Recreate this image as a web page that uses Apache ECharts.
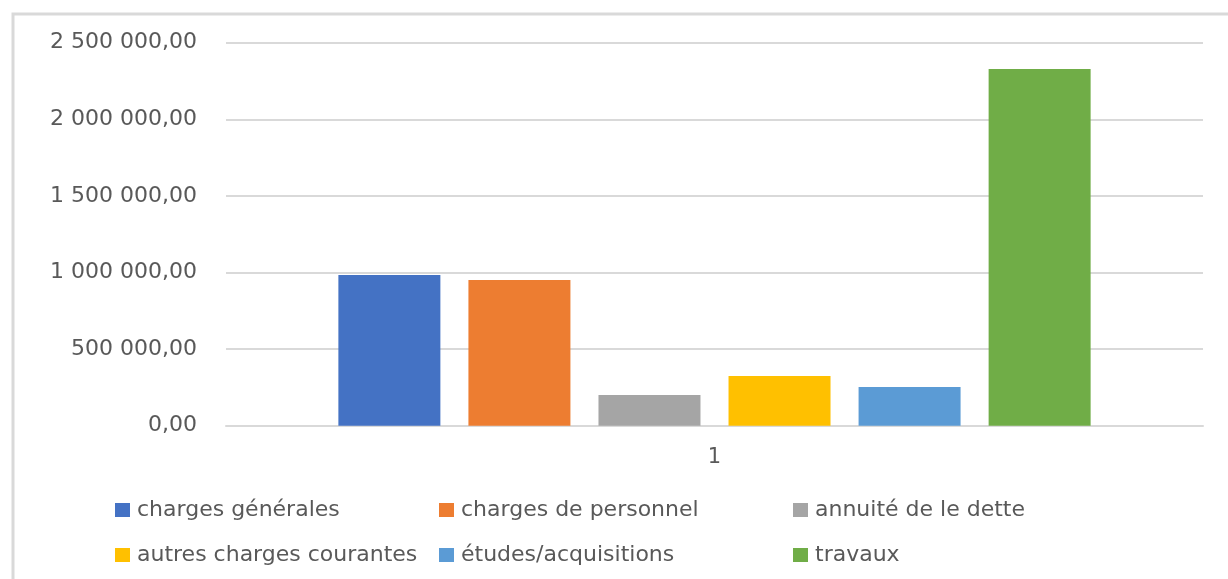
<!DOCTYPE html>
<html>
<head>
<meta charset="utf-8">
<script src="https://cdn.jsdelivr.net/npm/echarts@6/dist/echarts.min.js"></script>
<style>
html,body{margin:0;padding:0;background:#fff;}
#c{width:1228px;height:579px;}
</style>
</head>
<body>
<div id="c"></div>
<script>
const categories = ['1'];
const seriesNames = ['charges générales','charges de personnel','annuité de le dette','autres charges courantes','études/acquisitions','travaux'];
const seriesValues = [984000, 951000, 200000, 324000, 253000, 2328000];
const seriesColors = ['#4472C4','#ED7D31','#A5A5A5','#FFC000','#5B9BD5','#70AD47'];
const yTicks = [0, 500000, 1000000, 1500000, 2000000, 2500000];

function fmt(v){
  const s = Math.round(v).toString().replace(/\B(?=(\d{3})+(?!\d))/g,' ');
  return s + ',00';
}

const font = '"DejaVu Sans", sans-serif';
const chart = echarts.init(document.getElementById('c'));

const legendPos = [
  {left:110, top:494},{left:434, top:494},{left:788, top:494},
  {left:110, top:539},{left:434, top:539},{left:788, top:539}
];

const legends = seriesNames.map((n,i)=>({
  data:[n],
  left: legendPos[i].left,
  top: legendPos[i].top,
  icon:'rect',
  itemWidth:15,
  itemHeight:14,
  itemGap:0,
  selectedMode:false,
  textStyle:{color:'#595959', fontSize:22, fontFamily:font, padding:[0,0,0,2]}
}));

chart.setOption({
  animation:false,
  graphic:[{
    type:'rect',
    shape:{x:13, y:14, width:1400, height:800},
    style:{fill:'none', stroke:'#d9d9d9', lineWidth:3},
    silent:true
  }],
  legend: legends,
  grid:{left:226, right:25, top:42.7, bottom:153.3, containLabel:false},
  xAxis:{
    type:'category',
    data:categories,
    axisLine:{lineStyle:{color:'#d9d9d9', width:2}},
    axisTick:{show:false},
    axisLabel:{color:'#595959', fontSize:21, fontFamily:font, margin:21}
  },
  yAxis:{
    type:'value',
    min:yTicks[0],
    max:yTicks[yTicks.length-1],
    interval:yTicks[1]-yTicks[0],
    axisLine:{show:false},
    axisTick:{show:false},
    splitLine:{lineStyle:{color:'#d9d9d9', width:2}},
    axisLabel:{color:'#595959', fontSize:22, fontFamily:font, margin:29, formatter:fmt}
  },
  series: seriesNames.map((n,i)=>({
    name:n,
    type:'bar',
    data:[seriesValues[i]],
    barWidth:102,
    barGap:'27.5%',
    itemStyle:{color:seriesColors[i]}
  }))
});
</script>
</body>
</html>
